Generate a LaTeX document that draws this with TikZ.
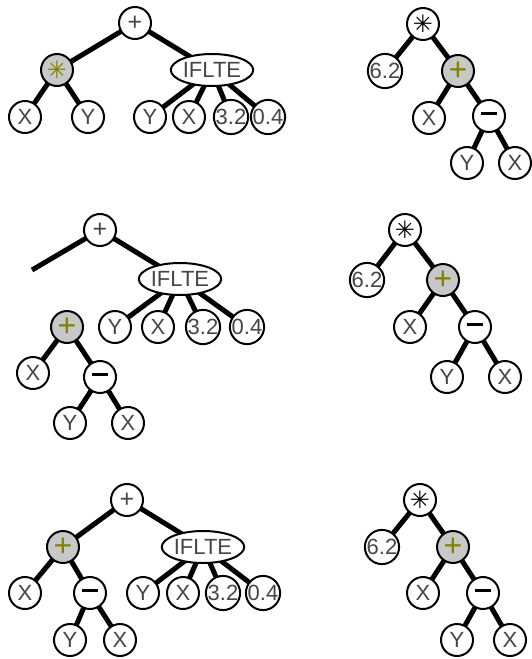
\documentclass[tikz,border=0pt]{standalone}
\usepackage{fontspec}
\setmainfont{Liberation Sans}
\newfontfamily\symfont{DejaVu Sans}
\usetikzlibrary{shapes.geometric,backgrounds}
\definecolor{txt}{RGB}{70,70,70}
\definecolor{olivesym}{RGB}{130,130,0}
\definecolor{shade}{RGB}{200,200,200}
\tikzset{
  leaf/.style={circle,draw=black,line width=2pt,fill=white,minimum size=32pt,inner sep=0pt,
    text=txt,font=\fontsize{22}{22}\selectfont},
  chosen/.style={leaf,fill=shade,text=olivesym},
  iflte/.style={ellipse,draw=black,line width=2pt,fill=white,minimum width=72pt,minimum height=32pt,
    inner sep=0pt,text=txt,font=\fontsize{22}{22}\selectfont},
  edge/.style={line width=5pt,black},
}
\newcommand{\plussym}{{\fontsize{25}{25}\selectfont +}}
\newcommand{\bigplus}{{\fontsize{32}{32}\selectfont\raisebox{-1pt}{+}}}
\newcommand{\minussym}{{\color{black}\rule[5pt]{16pt}{3pt}}}
\newcommand{\starsym}{{\symfont\fontsize{24}{24}\selectfont ✳}}
\begin{document}
\begin{tikzpicture}[x=1pt,y=-1pt]
\useasboundingbox (0,0) rectangle (532,659);

% ---- row 1, left: (X*Y) + IFLTE(Y,X,3.2,0.4)
\node[leaf] (a0) at (135,23) {\plussym};
\node[chosen] (a1) at (57,70) {\starsym};
\node[iflte] (a2) at (212,70) {IFLTE};
\node[leaf] (a3) at (25,117) {X};
\node[leaf] (a4) at (88,117) {Y};
\node[leaf] (a5) at (150,117) {Y};
\node[leaf] (a6) at (189,117) {X};
\node[leaf] (a7) at (231,117) {3.2};
\node[leaf] (a8) at (268,117) {0.4};

% ---- row 1, right: 6.2 * (X + (Y - X))
\node[leaf,text=black] (b0) at (423,24) {\starsym};
\node[leaf] (b1) at (385,71) {6.2};
\node[chosen] (b2) at (458,71) {\bigplus};
\node[leaf] (b3) at (429,118) {X};
\node[leaf] (b4) at (489,116) {\minussym};
\node[leaf] (b5) at (467,163) {Y};
\node[leaf] (b6) at (515,163) {X};

% ---- row 2, left: detached subtree
\node[leaf] (c0) at (100,230) {\plussym};
\coordinate (cfree) at (32,270);
\node[iflte] (c2) at (180,279) {IFLTE};
\node[leaf] (c5) at (115,327) {Y};
\node[leaf] (c6) at (158,327) {X};
\node[leaf] (c7) at (203,327) {3.2};
\node[leaf] (c8) at (247,327) {0.4};
\node[chosen] (c1) at (67,327) {\bigplus};
\node[leaf] (c3) at (33,373) {X};
\node[leaf] (c4) at (100,377) {\minussym};
\node[leaf] (c9) at (70,423) {Y};
\node[leaf] (c10) at (128,423) {X};

% ---- row 2, right
\node[leaf,text=black] (d0) at (405,230) {\starsym};
\node[leaf] (d1) at (367,280) {6.2};
\node[chosen] (d2) at (443,280) {\bigplus};
\node[leaf] (d3) at (410,327) {X};
\node[leaf] (d4) at (475,327) {\minussym};
\node[leaf] (d5) at (447,377) {Y};
\node[leaf] (d6) at (505,377) {X};

% ---- row 3, left: result of the swap
\node[leaf] (e0) at (127,500) {\plussym};
\node[chosen] (e1) at (63,547) {\bigplus};
\node[iflte] (e2) at (203,547) {IFLTE};
\node[leaf] (e3) at (25,593) {X};
\node[leaf] (e4) at (90,593) {\minussym};
\node[leaf] (e5) at (143,593) {Y};
\node[leaf] (e6) at (183,593) {X};
\node[leaf] (e7) at (223,593) {3.2};
\node[leaf] (e8) at (263,593) {0.4};
\node[leaf] (e9) at (70,640) {Y};
\node[leaf] (e10) at (120,640) {X};

% ---- row 3, right
\node[leaf,text=black] (f0) at (420,500) {\starsym};
\node[leaf] (f1) at (382,547) {6.2};
\node[chosen] (f2) at (453,547) {\bigplus};
\node[leaf] (f3) at (423,593) {X};
\node[leaf] (f4) at (483,593) {\minussym};
\node[leaf] (f5) at (457,640) {Y};
\node[leaf] (f6) at (510,640) {X};

\begin{scope}[on background layer]
  \draw[edge] (a0.center) -- (a1.center) (a0.center) -- (a2.center)
    (a1.center) -- (a3.center) (a1.center) -- (a4.center)
    (a2.center) -- (a5.center) (a2.center) -- (a6.center)
    (a2.center) -- (a7.center) (a2.center) -- (a8.center);
  \draw[edge] (b0.center) -- (b1.center) (b0.center) -- (b2.center)
    (b2.center) -- (b3.center) (b2.center) -- (b4.center)
    (b4.center) -- (b5.center) (b4.center) -- (b6.center);
  \draw[edge] (c0.center) -- (cfree) (c0.center) -- (c2.center)
    (c2.center) -- (c5.center) (c2.center) -- (c6.center)
    (c2.center) -- (c7.center) (c2.center) -- (c8.center)
    (c1.center) -- (c3.center) (c1.center) -- (c4.center)
    (c4.center) -- (c9.center) (c4.center) -- (c10.center);
  \draw[edge] (d0.center) -- (d1.center) (d0.center) -- (d2.center)
    (d2.center) -- (d3.center) (d2.center) -- (d4.center)
    (d4.center) -- (d5.center) (d4.center) -- (d6.center);
  \draw[edge] (e0.center) -- (e1.center) (e0.center) -- (e2.center)
    (e1.center) -- (e3.center) (e1.center) -- (e4.center)
    (e4.center) -- (e9.center) (e4.center) -- (e10.center)
    (e2.center) -- (e5.center) (e2.center) -- (e6.center)
    (e2.center) -- (e7.center) (e2.center) -- (e8.center);
  \draw[edge] (f0.center) -- (f1.center) (f0.center) -- (f2.center)
    (f2.center) -- (f3.center) (f2.center) -- (f4.center)
    (f4.center) -- (f5.center) (f4.center) -- (f6.center);
\end{scope}
\end{tikzpicture}
\end{document}
